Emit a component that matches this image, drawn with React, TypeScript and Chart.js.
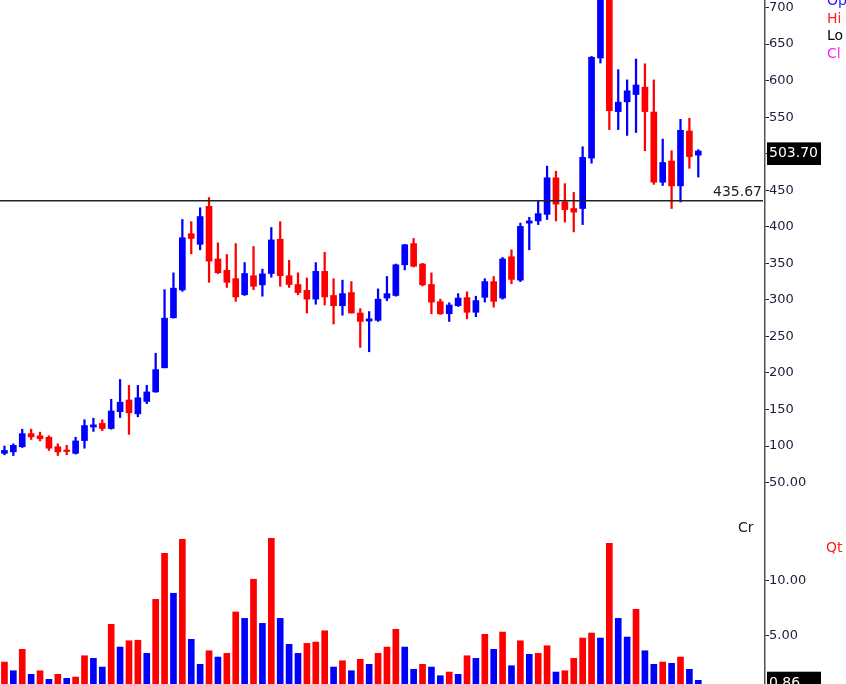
import React, { useEffect, useRef } from "react";
import { Chart, registerables } from "chart.js";

Chart.register(...registerables);

// ---------- data ----------
const opens = [
  90, 92, 99, 117, 114, 112, 99, 94, 90, 107.5,
  126, 131, 124, 147, 163, 144, 161, 174, 207, 275.5,
  313.6, 390.5, 376, 428, 356, 340.5, 329, 307, 333, 320.5,
  336, 383, 333, 321, 313, 301, 339, 306, 292, 310,
  282, 271, 272, 302.5, 306, 348, 377, 349, 321, 297.5,
  281, 292, 303, 283, 303.5, 325, 302.5, 359, 327, 405,
  408, 417, 467, 434, 425, 425, 494, 631, 745, 557.6,
  571, 581, 591, 557, 461, 490, 456, 531, 498,
];
const highs = [
  100, 103, 123, 123, 119, 114, 103, 101, 112, 136,
  138, 136, 164, 191, 183, 183, 183, 227, 314, 337,
  410, 407, 426, 440, 378, 362, 377, 351, 373, 342,
  399, 407, 354, 337, 330, 351, 365, 329, 327, 325,
  288, 284, 315, 332, 349, 376, 384, 350, 337, 301,
  296, 308.5, 311, 305, 329, 332, 358, 368.5, 405, 413,
  436, 483, 476, 459, 447, 509.5, 633, 770, 775, 615,
  601, 629.5, 623, 601, 520, 504, 547, 548.5, 505.5,
];
const lows = [
  88, 87, 98, 109, 107, 94, 87, 88, 89, 97,
  120, 121, 123, 139, 116, 140, 158, 173.5, 207, 275,
  311.7, 363, 368.5, 324, 336, 317, 298, 306, 314, 305,
  331, 318.6, 317, 307, 282, 294, 293, 267, 279, 282,
  235, 229, 270.5, 299, 305, 341, 345, 319, 281, 280,
  270.5, 291, 274, 277, 297, 290, 301, 322, 325, 368.5,
  403, 410, 408, 406.5, 393, 403, 487, 624, 533, 533,
  525, 529, 504, 458, 456.5, 425, 434, 480, 468,
];
const closes = [
  94, 101, 117, 112.5, 110, 97, 92, 92.5, 107, 128,
  129, 124, 148, 160, 145.5, 166, 174, 204.5, 275, 316,
  385, 384, 414, 353, 337, 324, 304, 336, 318.6, 335.6,
  382, 333, 321, 310, 301, 339, 304, 292, 308.5, 282,
  270.5, 274, 301, 308.5, 348, 375.4, 346, 320.5, 297, 281,
  293, 302.5, 283, 299, 325, 298, 356, 328, 400.5, 408,
  418, 467, 431, 423.5, 420, 495, 632, 742, 559, 570.5,
  586, 594, 557.6, 461, 488, 456, 532, 496, 503.7,
];
const volumes = [
  2.54, 1.74, 3.71, 1.41, 1.74, 0.95, 1.41, 1.04, 1.16, 3.12,
  2.88, 2.08, 6.01, 3.92, 4.5, 4.55, 3.34, 8.31, 12.55, 8.87,
  13.84, 4.63, 2.33, 3.58, 3.0, 3.34, 7.15, 6.56, 10.16, 6.1,
  13.93, 6.56, 4.17, 3.34, 4.26, 4.38, 5.42, 2.08, 2.66, 1.74,
  2.79, 2.33, 3.34, 3.92, 5.55, 3.92, 1.87, 2.33, 2.08, 1.28,
  1.62, 1.41, 3.12, 2.88, 5.09, 3.71, 5.3, 2.2, 4.5, 3.25,
  3.34, 4.04, 1.62, 1.74, 2.88, 4.75, 5.21, 4.75, 13.47, 6.56,
  4.84, 7.39, 3.58, 2.33, 2.54, 2.42, 3.0, 1.87, 0.86,
];
const SLOT_COUNT = 86; // visible bar slots incl. empty right margin
const slotLabels = Array.from({ length: SLOT_COUNT }, (_, i) => String(i + 1));
const priceTicks = [50, 100, 150, 200, 250, 300, 350, 400, 450, 500, 550, 600, 650, 700];
const volumeTicks = [5, 10];
const referenceLevel = 435.67;
const priceLegend = ["Op", "Hi", "Lo", "Cl"];
const priceLegendColors = ["#2020ff", "#ff2020", "#000000", "#ff20ff"];
const volumeUnitLabel = "Cr";
const volumeLegend = "Qt";

// ---------- style ----------
const BLUE = "#0000ff";
const RED = "#ff0000";
const FONT = "'DejaVu Sans', Verdana, sans-serif";
const W = 846;
const PRICE_H = 517;
const VOL_H = 167;
const AXIS_W = 81;

const candleColors = closes.map((c, i) => (c >= opens[i] ? BLUE : RED));
const volumeColors = volumes.map((v, i) => (i > 0 && v < volumes[i - 1] ? BLUE : RED));

const fmtPrice = (v: number) => (v < 100 ? v.toFixed(2) : String(v));

function axisBase(min: number, max: number, ticks: number[], fmt: (v: number) => string) {
  return {
    position: "right" as const,
    min,
    max,
    afterFit: (scale: any) => {
      scale.width = AXIS_W;
      scale.paddingTop = 0;
      scale.paddingBottom = 0;
    },
    afterBuildTicks: (scale: any) => {
      scale.ticks = ticks.map((v) => ({ value: v }));
    },
    border: { display: true, color: "#505050", width: 1.5 },
    grid: { drawOnChartArea: false, drawTicks: true, tickLength: 4, color: "#222", lineWidth: 1 },
    ticks: {
      padding: 0,
      color: "#1c1c3c",
      font: { family: FONT, size: 13 },
      callback: (v: any) => fmt(Number(v)),
    },
  };
}

function valueBox(ctx: CanvasRenderingContext2D, y: number, text: string) {
  ctx.save();
  ctx.fillStyle = "#000";
  ctx.fillRect(767, y - 8.6, 54, 22.6);
  ctx.fillStyle = "#fff";
  ctx.font = `14px ${FONT}`;
  ctx.textAlign = "left";
  ctx.textBaseline = "middle";
  ctx.fillText(text, 769, y + 2.7);
  ctx.restore();
}

const pricePlugin = {
  id: "priceDecor",
  afterDraw(chart: any) {
    const ctx: CanvasRenderingContext2D = chart.ctx;
    const y = chart.scales.y;
    const area = chart.chartArea;
    ctx.save();
    // reference level
    const ly = y.getPixelForValue(referenceLevel);
    ctx.strokeStyle = "#222";
    ctx.lineWidth = 1.5;
    ctx.beginPath();
    ctx.moveTo(0, ly);
    ctx.lineTo(area.right - 2, ly);
    ctx.stroke();
    ctx.fillStyle = "#222";
    ctx.font = `14px ${FONT}`;
    ctx.textAlign = "right";
    ctx.textBaseline = "bottom";
    ctx.fillText(referenceLevel.toFixed(2), 762, ly - 1);
    // panel separator
    ctx.strokeStyle = "#000";
    ctx.lineWidth = 2;
    ctx.beginPath();
    ctx.moveTo(0, area.bottom + 1);
    ctx.lineTo(area.right - 1, area.bottom + 1);
    ctx.stroke();
    // legend
    ctx.font = `14px ${FONT}`;
    ctx.textAlign = "left";
    ctx.textBaseline = "middle";
    priceLegend.forEach((t, i) => {
      ctx.fillStyle = priceLegendColors[i];
      ctx.fillText(t, 827, 1.5 + i * 17.5);
    });
    ctx.restore();
    const last = closes[closes.length - 1];
    valueBox(ctx, y.getPixelForValue(last), last.toFixed(2));
  },
};

const volumePlugin = {
  id: "volumeDecor",
  afterDraw(chart: any) {
    const ctx: CanvasRenderingContext2D = chart.ctx;
    const y = chart.scales.y;
    ctx.save();
    ctx.font = `14px ${FONT}`;
    ctx.textAlign = "left";
    ctx.textBaseline = "middle";
    ctx.fillStyle = "#222";
    ctx.fillText(volumeUnitLabel, 738, 11);
    ctx.fillStyle = "#ff2020";
    ctx.fillText(volumeLegend, 826, 31);
    ctx.restore();
    const last = volumes[volumes.length - 1];
    valueBox(ctx, y.getPixelForValue(last), last.toFixed(2));
  },
};

export default function App() {
  const priceRef = useRef<HTMLCanvasElement>(null);
  const volRef = useRef<HTMLCanvasElement>(null);

  useEffect(() => {
    const common = {
      responsive: false,
      animation: false as const,
      maintainAspectRatio: false,
      layout: { padding: 0 },
      plugins: { legend: { display: false }, tooltip: { enabled: false } },
      events: [] as any[],
    };
    const priceChart = new Chart(priceRef.current!, {
      type: "bar",
      data: {
        labels: slotLabels,
        datasets: [
          {
            data: opens.map((o, i) => [o, closes[i]]) as any,
            backgroundColor: candleColors,
            borderWidth: 0,
            barThickness: 6,
            minBarLength: 1.5,
            grouped: false,
            order: 1,
          },
          {
            data: lows.map((l, i) => [l, highs[i]]) as any,
            backgroundColor: candleColors,
            borderWidth: 0,
            barThickness: 1.6,
            grouped: false,
            order: 2,
          },
        ],
      },
      options: {
        ...common,
        scales: {
          x: { type: "category", display: false, offset: true },
          y: axisBase(2.9, 710.3, priceTicks, fmtPrice) as any,
        },
      },
      plugins: [pricePlugin],
    });
    const volChart = new Chart(volRef.current!, {
      type: "bar",
      data: {
        labels: slotLabels,
        datasets: [
          {
            data: volumes,
            backgroundColor: volumeColors,
            borderWidth: 0,
            barThickness: 6,
          },
        ],
      },
      options: {
        ...common,
        scales: {
          x: { type: "category", display: false, offset: true },
          y: axisBase(0.52, 15.89, volumeTicks, (v) => v.toFixed(2)) as any,
        },
      },
      plugins: [volumePlugin],
    });
    return () => {
      priceChart.destroy();
      volChart.destroy();
    };
  }, []);

  return (
    <div style={{ position: "fixed", left: 0, top: 0, width: W, height: PRICE_H + VOL_H, background: "#fff", overflow: "hidden" }}>
      <canvas ref={priceRef} width={W} height={PRICE_H} style={{ position: "absolute", left: 0, top: 0, width: W, height: PRICE_H }} />
      <canvas ref={volRef} width={W} height={VOL_H} style={{ position: "absolute", left: 0, top: PRICE_H, width: W, height: VOL_H }} />
    </div>
  );
}
